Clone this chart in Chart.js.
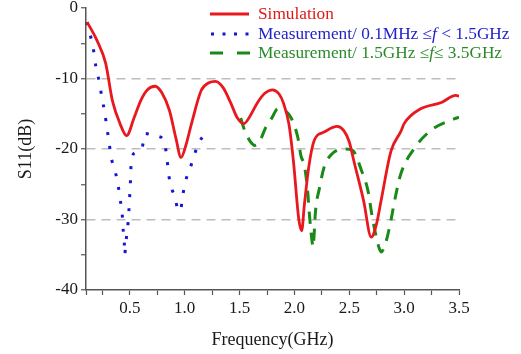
<!DOCTYPE html>
<html>
<head>
<meta charset="utf-8">
<script src="https://cdn.jsdelivr.net/npm/chart.js@4/dist/chart.umd.min.js"></script>
<style>
  html, body { margin: 0; padding: 0; background: #fff; }
  #wrap { position: relative; width: 521px; height: 354px; }
  #legend { position: absolute; left: 0; top: 0; width: 521px; height: 70px; pointer-events: none;
            font-family: "Liberation Serif", "Times New Roman", serif; font-size: 16px; }
  .row { position: absolute; left: 258px; white-space: nowrap; line-height: 19px;
         transform: scaleX(1.08); transform-origin: left center; }
  .row i { font-style: italic; }
  #legend svg { position: absolute; left: 208px; top: 0; }
</style>
</head>
<body>
<div id="wrap">
  <canvas id="s11Chart" width="521" height="354"></canvas>
  <div id="legend">
    <svg width="46" height="64">
      <line x1="2" y1="14" x2="41" y2="14" stroke="#e8181e" stroke-width="3"/>
      <line x1="3" y1="34" x2="41" y2="34" stroke="#1515d6" stroke-width="3" stroke-dasharray="3 8.5"/>
      <line x1="2" y1="53" x2="42" y2="53" stroke="#188a18" stroke-width="3" stroke-dasharray="13 14"/>
    </svg>
    <div class="row" style="top:4px; color:#e01818;">Simulation</div>
    <div class="row" style="top:24px; color:#2222cc;">Measurement/ 0.1MHz ≤<i>f</i> &lt; 1.5GHz</div>
    <div class="row" style="top:43px; color:#2a8a2a;">Measurement/ 1.5GHz ≤<i>f</i>≤ 3.5GHz</div>
  </div>
</div>
<script>
// simulated S11 (GHz, dB)
const simFreq = [0.11, 0.2, 0.28, 0.34, 0.41, 0.47, 0.54, 0.6, 0.66, 0.73, 0.79, 0.86, 0.92, 0.966,
  1.01, 1.06, 1.15, 1.22, 1.28, 1.35, 1.42, 1.48, 1.54, 1.6, 1.66, 1.73, 1.8, 1.86, 1.9, 1.95,
  1.99, 2.04, 2.066, 2.09, 2.13, 2.18, 2.27, 2.39, 2.45, 2.5, 2.54, 2.63, 2.7, 2.75, 2.79, 2.88,
  2.97, 3.0, 3.15, 3.34, 3.47, 3.5];
const simS11 = [-2.0, -4.6, -7.9, -13.1, -16.4, -18.1, -15.5, -13.1, -11.6, -11.1, -12.0, -14.5, -18.5, -21.2,
  -19.5, -16.5, -11.7, -10.6, -10.4, -11.3, -13.5, -15.6, -16.4, -15.2, -13.5, -12.1, -11.6, -12.2, -13.5, -16.5,
  -21.6, -30.0, -31.6, -28.0, -22.6, -18.8, -17.6, -16.8, -17.4, -19.0, -21.6, -27.3, -32.5, -30.5, -27.3, -20.3,
  -17.5, -16.4, -14.3, -13.4, -12.4, -12.5];

// measured, 0.1MHz - 1.5GHz
const measLowFreq = [0.11, 0.14, 0.17, 0.19, 0.22, 0.245, 0.27, 0.29, 0.31, 0.33, 0.36, 0.39, 0.41, 0.428,
  0.437, 0.449, 0.453, 0.462, 0.48, 0.49, 0.498, 0.505, 0.51, 0.546, 0.61, 0.638, 0.7, 0.76, 0.81, 0.836,
  0.85, 0.875, 0.91, 0.936, 0.96, 0.98, 1.005, 1.05, 1.09, 1.14, 1.21];
const measLowS11 = [-2.0, -3.9, -6.1, -8.3, -10.4, -12.7, -14.8, -16.9, -19.0, -21.2, -22.9, -24.8, -27.1, -28.8,
  -31.1, -33.3, -35.0, -33.4, -31.1, -29.0, -26.8, -24.6, -22.5, -20.5, -19.9, -17.8, -18.0, -18.2, -18.9, -21.0,
  -23.2, -25.3, -26.8, -28.5, -28.8, -26.8, -24.7, -22.7, -20.7, -18.8, -17.6];

// measured, 1.5GHz - 3.5GHz
const measHighFreq = [1.51, 1.54, 1.6, 1.64, 1.68, 1.74, 1.79, 1.85, 1.91, 1.97, 2.03, 2.06, 2.09, 2.12,
  2.136, 2.16, 2.17, 2.18, 2.19, 2.23, 2.27, 2.33, 2.45, 2.53, 2.61, 2.67, 2.71, 2.76, 2.79, 2.83,
  2.88, 2.92, 2.97, 3.08, 3.24, 3.46, 3.5];
const measHighS11 = [-15.6, -17.1, -19.0, -19.5, -19.0, -16.9, -15.7, -14.3, -14.5, -15.6, -18.3, -21.0, -22.3, -25.9,
  -29.2, -33.0, -33.9, -32.0, -29.2, -25.4, -22.6, -20.9, -20.0, -20.2, -23.0, -25.9, -29.7, -33.4, -34.6, -33.4,
  -30.1, -26.8, -23.5, -20.2, -17.4, -15.7, -15.5];

const xTicks = [0.1, 0.25, 0.5, 0.75, 1.0, 1.25, 1.5, 1.75, 2.0, 2.25, 2.5, 2.75, 3.0, 3.25, 3.5];
const yTicks = [0, -5, -10, -15, -20, -25, -30, -35, -40];
const dashedGrid = [-10, -20, -30];

const toPoints = (xs, ys) => xs.map((x, i) => ({ x: x, y: ys[i] }));
const serif = "'Liberation Serif', 'Times New Roman', serif";
const isMajor = (v, step) => Math.abs(v / step - Math.round(v / step)) < 1e-6;

new Chart(document.getElementById("s11Chart"), {
  type: 'line',
  data: {
    datasets: [{
      label: 'Simulation',
      data: toPoints(simFreq, simS11),
      borderColor: '#e8181e',
      borderWidth: 2.8
    }, {
      label: 'Measurement/ 0.1MHz ≤f < 1.5GHz',
      data: toPoints(measLowFreq, measLowS11),
      borderColor: '#1515d6',
      borderWidth: 3,
      borderDash: [3, 11]
    }, {
      label: 'Measurement/ 1.5GHz ≤f≤ 3.5GHz',
      data: toPoints(measHighFreq, measHighS11),
      borderColor: '#188a18',
      borderWidth: 3,
      borderDash: [12, 9]
    }]
  },
  options: {
    responsive: false,
    animation: false,
    layout: { padding: { top: 8, right: 62, left: 0, bottom: 0 } },
    elements: {
      point: { radius: 0 },
      line: { cubicInterpolationMode: 'monotone', fill: false }
    },
    plugins: { legend: { display: false }, tooltip: { enabled: false } },
    scales: {
      x: {
        type: 'linear',
        min: 0.1,
        max: 3.5,
        afterBuildTicks: s => { s.ticks = xTicks.map(v => ({ value: v })); },
        afterFit: s => { s.height = 64; },
        ticks: {
          autoSkip: false,
          maxRotation: 0,
          padding: 3,
          color: '#1a1a1a',
          font: { family: serif, size: 17 },
          callback: v => (v >= 0.5 && isMajor(v, 0.5)) ? v.toFixed(1) : ''
        },
        grid: { drawOnChartArea: false, tickLength: 5, tickColor: '#555', tickWidth: 1.2 },
        border: { color: '#555', width: 1.5 },
        title: {
          display: true,
          text: 'Frequency(GHz)',
          color: '#1a1a1a',
          font: { family: serif, size: 18 },
          padding: { top: 0, bottom: 3 }
        }
      },
      y: {
        min: -40,
        max: 0,
        afterBuildTicks: s => { s.ticks = yTicks.map(v => ({ value: v })); },
        afterFit: s => { s.width = 86; s.paddingTop = 0; s.paddingBottom = 0; },
        ticks: {
          padding: 3,
          color: '#1a1a1a',
          font: { family: serif, size: 17 },
          callback: v => isMajor(v, 10) ? String(v) : ''
        },
        grid: {
          color: c => (c.tick && dashedGrid.includes(c.tick.value)) ? '#bdbdbd' : 'rgba(0,0,0,0)',
          lineWidth: 1.5,
          tickLength: 5,
          tickColor: '#555',
          tickWidth: 1.2
        },
        border: { color: '#555', width: 1.5, dash: [9, 6] },
        title: {
          display: true,
          text: 'S11(dB)',
          color: '#1a1a1a',
          font: { family: serif, size: 18 },
          padding: { top: 15, bottom: 0 }
        }
      }
    }
  }
});
</script>
</body>
</html>
